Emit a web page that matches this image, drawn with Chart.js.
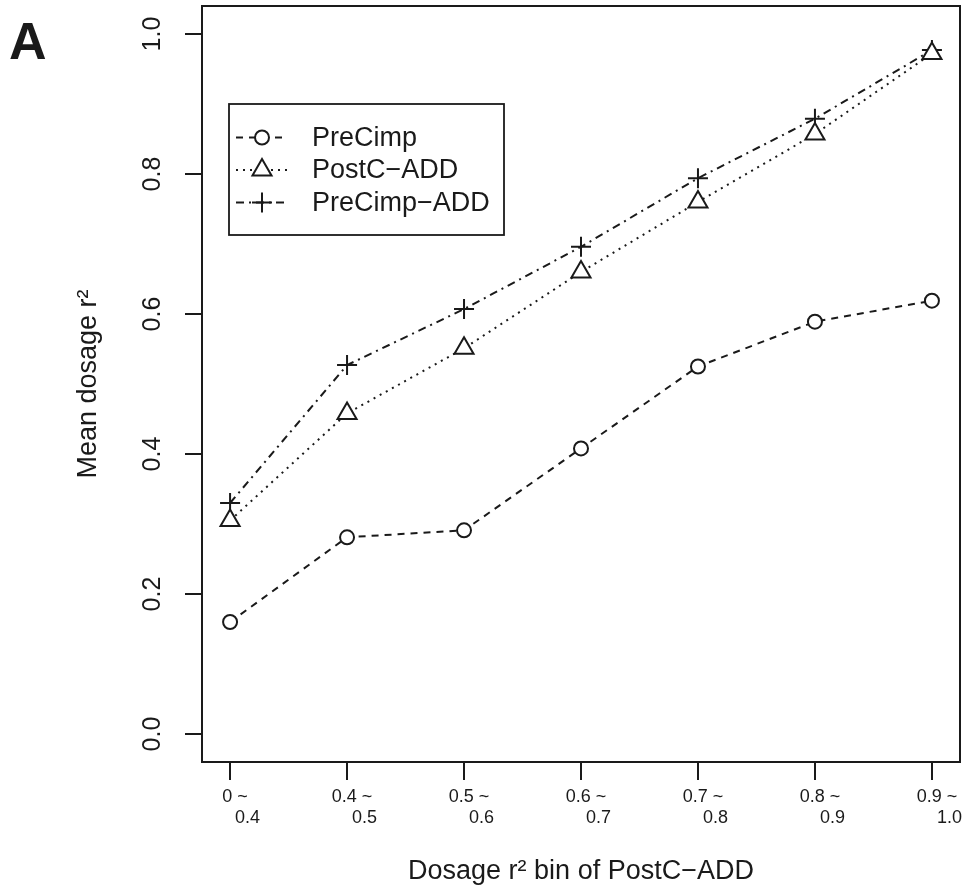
<!DOCTYPE html>
<html>
<head>
<meta charset="utf-8">
<script src="https://cdn.jsdelivr.net/npm/chart.js@4.4.1/dist/chart.umd.min.js"></script>
<style>
  html, body { margin: 0; padding: 0; background: #ffffff; }
  #wrap { width: 966px; height: 890px; position: relative; }
</style>
</head>
<body>
<div id="wrap"><canvas id="c" width="966" height="890"></canvas></div>
<script>
// ---- data ----
const binStarts = ["0", "0.4", "0.5", "0.6", "0.7", "0.8", "0.9"];
const binEnds   = ["0.4", "0.5", "0.6", "0.7", "0.8", "0.9", "1.0"];
const preCimp    = [0.160, 0.281, 0.291, 0.408, 0.525, 0.589, 0.619];
const postCADD   = [0.305, 0.458, 0.551, 0.660, 0.760, 0.857, 0.972];
const preCimpADD = [0.330, 0.527, 0.607, 0.696, 0.794, 0.879, 0.977];
const yTicks = [0.0, 0.2, 0.4, 0.6, 0.8, 1.0];
const seriesNames = ["PreCimp", "PostC\u2212ADD", "PreCimp\u2212ADD"];

const INK = "#1a1a1a";
const FONT = "'Liberation Sans', Arial, Helvetica, sans-serif";

function pts(arr) { return arr.map((v, i) => ({ x: i, y: v })); }

const datasets = [
  { label: seriesNames[0], data: pts(preCimp), borderDash: [7, 6], pointStyle: 'circle', pointRadius: 7, pointBackgroundColor: '#fff' },
  { label: seriesNames[1], data: pts(postCADD), borderDash: [2, 5], pointStyle: 'triangle', pointRadius: 11, pointBackgroundColor: '#fff' },
  { label: seriesNames[2], data: pts(preCimpADD), borderDash: [8, 5, 2, 5], pointStyle: 'cross', pointRadius: 10, pointBackgroundColor: 'rgba(0,0,0,0)' }
].map(d => Object.assign({
  borderColor: INK, borderWidth: 2, pointBorderColor: INK, pointBorderWidth: 2,
  fill: false, tension: 0, showLine: true
}, d));

const decor = {
  id: 'decor',
  afterDraw(chart) {
    const ctx = chart.ctx, a = chart.chartArea, ys = chart.scales.y;
    ctx.save();
    // box
    ctx.strokeStyle = INK; ctx.lineWidth = 2; ctx.setLineDash([]);
    ctx.strokeRect(a.left, a.top, a.right - a.left, a.bottom - a.top);
    // y tick labels (rotated, as in R)
    ctx.fillStyle = INK; ctx.font = "25px " + FONT;
    ctx.textAlign = 'center'; ctx.textBaseline = 'middle';
    yTicks.forEach(v => {
      const py = ys.getPixelForValue(v);
      ctx.save(); ctx.translate(153, py); ctx.rotate(-Math.PI / 2);
      ctx.fillText(v.toFixed(1), 0, 0); ctx.restore();
    });
    // panel letter
    ctx.font = "bold 52px " + FONT; ctx.textAlign = 'left'; ctx.textBaseline = 'alphabetic';
    ctx.fillText("A", 9, 59);
    // legend
    const L = { x: 229, y: 104, w: 275, h: 131 };
    ctx.lineWidth = 1.8; ctx.strokeRect(L.x, L.y, L.w, L.h);
    const rows = [137.5, 170, 202.5];
    ctx.font = "27px " + FONT; ctx.textBaseline = 'middle';
    chart.data.datasets.forEach((ds, i) => {
      const y = rows[i];
      ctx.save();
      ctx.strokeStyle = INK; ctx.lineWidth = 2; ctx.setLineDash(ds.borderDash);
      ctx.beginPath(); ctx.moveTo(236, y); ctx.lineTo(287, y); ctx.stroke();
      ctx.restore();
      ctx.save();
      ctx.setLineDash([]);
      ctx.strokeStyle = INK; ctx.fillStyle = ds.pointBackgroundColor; ctx.lineWidth = 2;
      Chart.helpers.drawPoint(ctx, { pointStyle: ds.pointStyle, rotation: 0, borderWidth: 2, radius: ds.pointRadius }, 262, y);
      ctx.restore();
      ctx.fillStyle = INK;
      ctx.fillText(ds.label, 312, y + 1);
    });
    ctx.restore();
  }
};

new Chart(document.getElementById('c'), {
  type: 'line',
  data: { datasets },
  options: {
    responsive: false, animation: false,
    layout: { autoPadding: false, padding: { top: 6, right: 6, left: 0, bottom: 0 } },
    plugins: { legend: { display: false }, tooltip: { enabled: false } },
    scales: {
      x: {
        type: 'linear', min: -0.24, max: 6.24,
        afterBuildTicks(s) { s.ticks = binStarts.map((_, i) => ({ value: i })); },
        afterFit(s) { s.height = 128; s.paddingLeft = 0; s.paddingRight = 0; },
        grid: { display: true, drawOnChartArea: false, drawTicks: true, tickLength: 18, color: INK, lineWidth: 2 },
        border: { display: false },
        ticks: {
          autoSkip: false, maxRotation: 0, minRotation: 0, padding: 6, color: INK,
          font: { family: FONT, size: 18 },
          callback: (v) => ["  " + binStarts[v] + " ~", "       " + binEnds[v]]
        },
        title: { display: true, text: "Dosage r\u00B2 bin of PostC\u2212ADD", color: INK,
                 font: { family: FONT, size: 27 }, padding: { top: 2, bottom: 2 } }
      },
      y: {
        type: 'linear', min: -0.04, max: 1.04,
        afterBuildTicks(s) { s.ticks = yTicks.map(v => ({ value: v })); },
        afterFit(s) { s.width = 202; s.paddingTop = 0; s.paddingBottom = 0; },
        grid: { display: true, drawOnChartArea: false, drawTicks: true, tickLength: 17, color: INK, lineWidth: 2 },
        border: { display: false },
        ticks: { display: false },
        title: { display: true, text: "Mean dosage r\u00B2", color: INK,
                 font: { family: FONT, size: 27 }, padding: { top: 72, bottom: 0 } }
      }
    }
  },
  plugins: [decor]
});
</script>
</body>
</html>
